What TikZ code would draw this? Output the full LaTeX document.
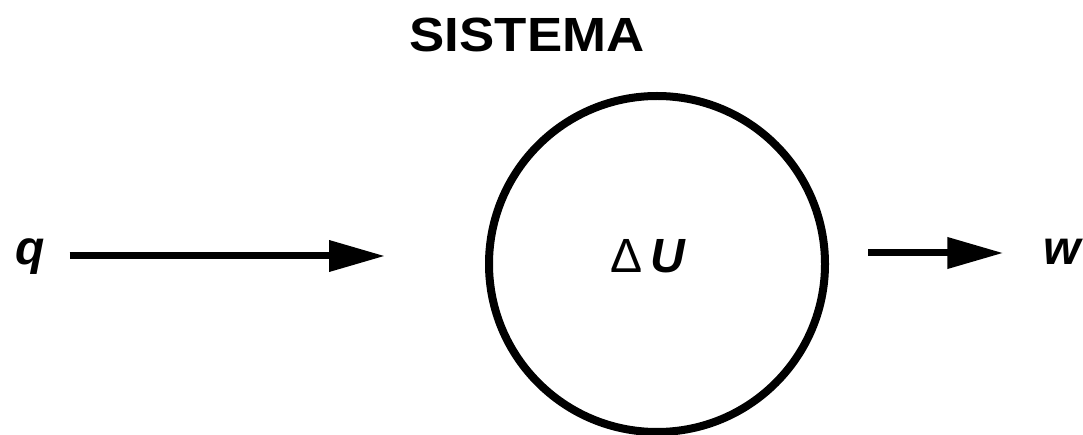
\documentclass[tikz,border=0pt]{standalone}
\usepackage{fontspec}
\setmainfont{Liberation Sans}
\usetikzlibrary{arrows.meta,calc}
\tikzset{
  lbl/.style={inner sep=0pt, outer sep=0pt, anchor=base, font=\fontsize{48}{50}\selectfont\bfseries},
  flow/.style={line width=7pt, -{Triangle[length=56pt,width=30pt]}},
  sysring/.style={circle, draw, line width=8pt, minimum size=336pt, inner sep=0pt, outer sep=0pt}
}
\begin{document}
\begin{tikzpicture}[x=1pt,y=-1pt]
\useasboundingbox (0,0) rectangle (1083,435);
\node[lbl, xscale=1.1] (title) at (527,52) {SISTEMA};
\node[sysring] (sys) at (657,264) {};
\node[lbl] (du) at (648,273) {{\fontseries{m}\selectfont Δ}\,\itshape U};
\node[lbl] (q) at (30,265) {\itshape q};
\node[lbl] (w) at (1062,265) {\itshape w};
\draw[flow] ($(q.base east)+(25,-9)$) -- ($(sys.west)+(-104,-8)$);
\draw[flow] ($(sys.east)+(43,-11)$) -- ($(w.base west)+(-40,-12)$);
\end{tikzpicture}
\end{document}
